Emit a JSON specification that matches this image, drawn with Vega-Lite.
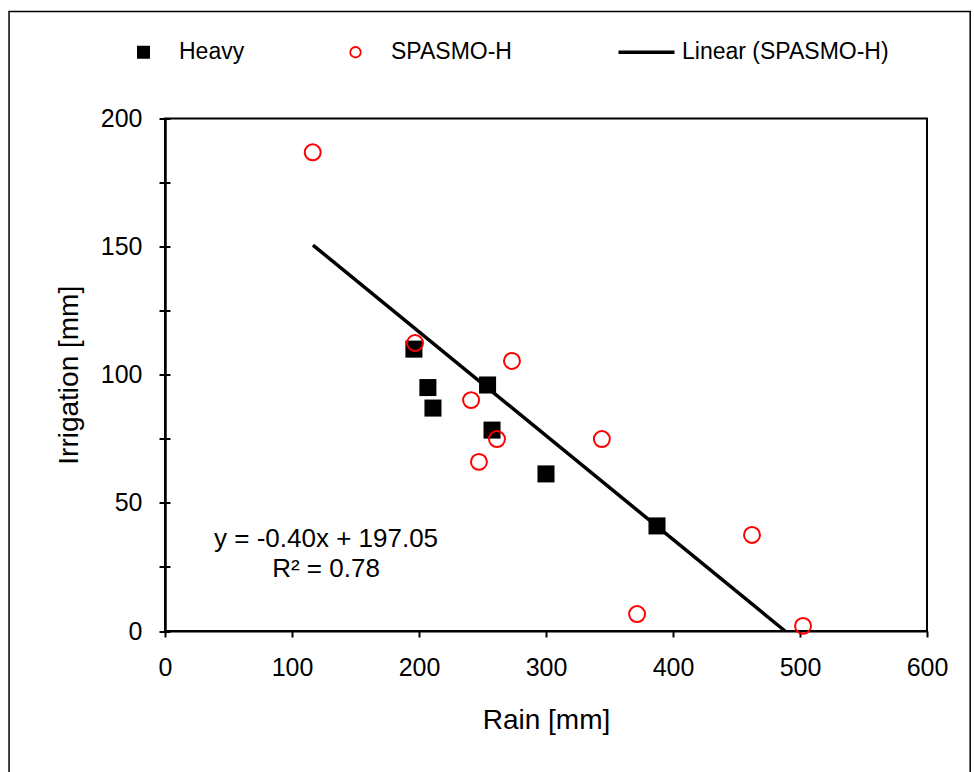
{
  "$schema": "https://vega.github.io/schema/vega-lite/v6.json",
  "width": 762,
  "height": 512.5,
  "autosize": {"type": "none"},
  "padding": {"left": 165, "top": 118.5, "right": 47, "bottom": 141},
  "background": "white",
  "config": {
    "font": "Liberation Sans",
    "view": {"stroke": "black", "strokeWidth": 2},
    "axis": {"labelFont": "Liberation Sans", "titleFont": "Liberation Sans", "labelColor": "black", "titleColor": "black", "domainColor": "black", "tickColor": "black", "grid": false, "titleFontWeight": "normal"}
  },
  "datasets": {
    "pts": [
      {"series": "Heavy", "rain": 196, "irr": 110},
      {"series": "Heavy", "rain": 207, "irr": 95},
      {"series": "Heavy", "rain": 211, "irr": 87},
      {"series": "Heavy", "rain": 254, "irr": 96},
      {"series": "Heavy", "rain": 257.5, "irr": 78.4},
      {"series": "Heavy", "rain": 300, "irr": 61.3},
      {"series": "Heavy", "rain": 387.4, "irr": 41},
      {"series": "SPASMO-H", "rain": 116.3, "irr": 186.8},
      {"series": "SPASMO-H", "rain": 196.9, "irr": 112.4},
      {"series": "SPASMO-H", "rain": 241, "irr": 90.1},
      {"series": "SPASMO-H", "rain": 273.2, "irr": 105.4},
      {"series": "SPASMO-H", "rain": 261.4, "irr": 74.9},
      {"series": "SPASMO-H", "rain": 247.2, "irr": 66},
      {"series": "SPASMO-H", "rain": 344, "irr": 74.9},
      {"series": "SPASMO-H", "rain": 462.2, "irr": 37.5},
      {"series": "SPASMO-H", "rain": 371.7, "irr": 6.6},
      {"series": "SPASMO-H", "rain": 502.4, "irr": 2},
      {"series": "Linear (SPASMO-H)", "rain": 116.5, "irr": 150.6},
      {"series": "Linear (SPASMO-H)", "rain": 488.2, "irr": 0}
    ]
  },
  "resolve": {"axis": {"y": "independent"}},
  "layer": [
    {
      "data": {"name": "pts"},
      "transform": [{"filter": "datum.series === 'Linear (SPASMO-H)'"}],
      "mark": {"type": "line", "strokeWidth": 3.5, "clip": false},
      "encoding": {
        "x": {"field": "rain", "type": "quantitative", "scale": {"domain": [0, 600], "nice": false, "zero": false},
          "axis": {"title": "Rain [mm]", "values": [0, 100, 200, 300, 400, 500, 600], "labelFontSize": 25, "titleFontSize": 28, "tickSize": 6, "tickWidth": 2, "domainWidth": 2, "labelPadding": 18, "titlePadding": 26, "labelFlush": false}},
        "y": {"field": "irr", "type": "quantitative", "scale": {"domain": [0, 200], "nice": false, "zero": false},
          "axis": {"orient": "left", "title": "Irrigation [mm]", "values": [0, 25, 50, 75, 100, 125, 150, 175, 200], "labelExpr": "datum.value % 50 === 0 ? datum.label : ''", "labelFontSize": 25, "titleFontSize": 28, "tickSize": 6, "tickWidth": 2, "domainWidth": 2.5, "labelPadding": 17, "titlePadding": 17, "labelFlush": false}},
        "color": {"field": "series", "type": "nominal",
          "scale": {"domain": ["Heavy", "SPASMO-H", "Linear (SPASMO-H)"], "range": ["black", "red", "black"]},
          "legend": {
            "orient": "none", "legendX": -33, "legendY": -78, "direction": "horizontal", "title": null,
            "padding": 0, "symbolSize": 3136, "labelFontSize": 23, "labelFont": "Liberation Sans", "labelColor": "black",
            "labelOffset": 24, "columnPadding": 99, "labelLimit": 500,
            "encode": {"symbols": {"update": {
              "shape": {"signal": "datum.value === 'Heavy' ? 'square' : datum.value === 'SPASMO-H' ? 'circle' : 'stroke'"},
              "size": {"signal": "datum.value === 'Heavy' ? 169 : datum.value === 'SPASMO-H' ? 110 : 3136"},
              "fill": {"signal": "datum.value === 'Heavy' ? 'black' : 'transparent'"},
              "fillOpacity": {"signal": "datum.value === 'Heavy' ? 1 : 0"},
              "stroke": {"signal": "datum.value === 'SPASMO-H' ? 'red' : 'black'"},
              "strokeWidth": {"signal": "datum.value === 'Heavy' ? 0 : datum.value === 'SPASMO-H' ? 1.8 : 3.5"},
              "opacity": {"value": 1}, "strokeOpacity": {"value": 1}
            }}}
          }}
      }
    },
    {
      "data": {"name": "pts"},
      "transform": [{"filter": "datum.series === 'Heavy'"}],
      "mark": {"type": "square", "size": 290, "opacity": 1, "clip": false},
      "encoding": {
        "x": {"field": "rain", "type": "quantitative"},
        "y": {"field": "irr", "type": "quantitative",
          "axis": {"orient": "left", "title": null, "values": [0, 25, 50, 75, 100, 125, 150, 175, 200], "labels": false, "domain": false, "tickSize": -5, "tickWidth": 2}},
        "color": {"field": "series", "type": "nominal"}
      }
    },
    {
      "data": {"name": "pts"},
      "transform": [{"filter": "datum.series === 'SPASMO-H'"}],
      "mark": {"type": "point", "shape": "circle", "filled": false, "size": 254, "strokeWidth": 2, "opacity": 1, "clip": false},
      "encoding": {
        "x": {"field": "rain", "type": "quantitative"},
        "y": {"field": "irr", "type": "quantitative", "axis": null},
        "color": {"field": "series", "type": "nominal"}
      }
    },
    {
      "data": {"values": [{}]},
      "mark": {"type": "text", "align": "center", "baseline": "alphabetic", "fontSize": 26, "lineHeight": 30, "color": "black", "font": "Liberation Sans"},
      "encoding": {
        "x": {"datum": 126.8, "type": "quantitative"},
        "y": {"datum": 32.9, "type": "quantitative", "axis": null},
        "text": {"value": ["y = -0.40x + 197.05", "R² = 0.78"]}
      }
    },
    {
      "data": {"values": [{}]},
      "mark": {"type": "rect", "filled": false, "stroke": "black", "strokeWidth": 1.5, "clip": false},
      "encoding": {
        "x": {"datum": -122.8, "type": "quantitative"},
        "x2": {"datum": 634},
        "y": {"datum": 241.8, "type": "quantitative", "axis": null},
        "y2": {"datum": -60}
      }
    }
  ]
}
